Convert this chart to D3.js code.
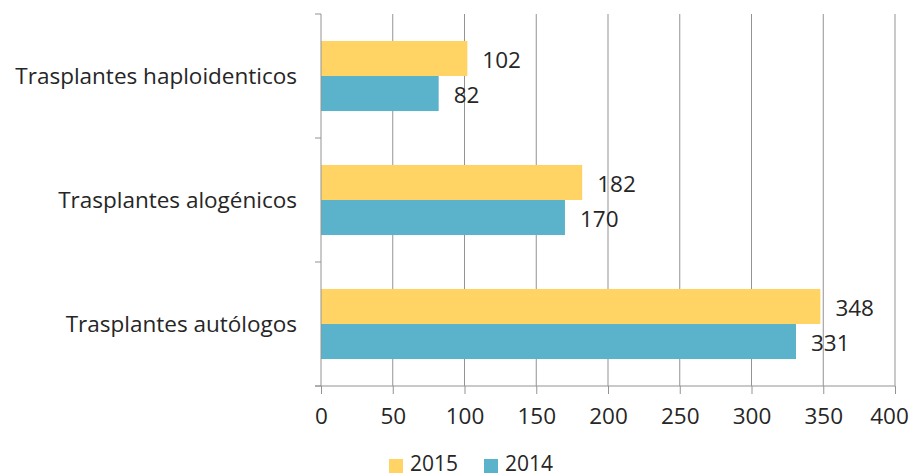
<!DOCTYPE html>
<html>
<head>
<meta charset="utf-8">
<script src="https://cdn.jsdelivr.net/npm/d3@7"></script>
<style>
  body { margin: 0; background: #fff; }
  text { font-family: "Open Sans", "Liberation Sans", sans-serif; fill: #262626; }
</style>
</head>
<body>
<div class="canvas"></div>
<script>
// data
const categories = ['Trasplantes haploidenticos', 'Trasplantes alogénicos', 'Trasplantes autólogos'];
const seriesNames = ['2015', '2014'];
const values2015 = [102, 182, 348];
const values2014 = [82, 170, 331];
const xTicks = [0, 50, 100, 150, 200, 250, 300, 350, 400];

const colors = d3.scaleOrdinal().domain(seriesNames).range(['#FFD465', '#5AB2CB']);

const svg = d3.select('.canvas')
    .append('svg')
    .attr('width', 915)
    .attr('height', 476);

const margin = {top: 14, right: 20, bottom: 90, left: 321};
const graphWidth = 895 - margin.left;
const graphHeight = 386 - margin.top;
const fontSize = '22.5px';

const graph = svg.append('g')
    .attr('transform', `translate(${margin.left}, ${margin.top})`);

// scales
const x = d3.scaleLinear().domain([0, 400]).range([0, graphWidth]);
const y = d3.scaleBand().domain(categories).range([0, graphHeight]);
const inner = d3.scaleBand().domain(seriesNames)
    .range([0, y.bandwidth()])
    .paddingInner(0)
    .paddingOuter(0.77);

// gridlines
graph.append('g')
    .selectAll('line')
    .data(xTicks.slice(1))
    .enter().append('line')
    .attr('x1', d => x(d)).attr('x2', d => x(d))
    .attr('y1', 0).attr('y2', graphHeight)
    .attr('stroke', '#939393')
    .attr('stroke-width', 1);

// rows of data
const rows = categories.map((c, i) => ({cat: c, vals: [
    {name: '2015', value: values2015[i]},
    {name: '2014', value: values2014[i]}
]}));

const groups = graph.selectAll('g.cat')
    .data(rows)
    .enter().append('g')
    .attr('class', 'cat')
    .attr('transform', d => `translate(0, ${y(d.cat)})`);

groups.selectAll('rect')
    .data(d => d.vals)
    .enter().append('rect')
    .attr('x', 0)
    .attr('y', d => inner(d.name))
    .attr('height', inner.bandwidth())
    .attr('width', d => x(d.value))
    .attr('fill', d => colors(d.name));

groups.selectAll('text.val')
    .data(d => d.vals)
    .enter().append('text')
    .attr('class', 'val')
    .attr('x', d => x(d.value) + 15)
    .attr('y', d => inner(d.name) + inner.bandwidth() / 2 + 1.5)
    .attr('dy', '0.35em')
    .style('font-size', fontSize)
    .text(d => d.value);

// axes
const xAxis = d3.axisBottom(x).tickValues(xTicks).tickSize(8).tickPadding(14);
const xAxisGroup = graph.append('g')
    .attr('transform', `translate(0, ${graphHeight})`)
    .call(xAxis);
xAxisGroup.select('.domain').attr('stroke', '#939393').attr('d', `M-6,0H${graphWidth}`);
xAxisGroup.selectAll('.tick line').attr('stroke', '#939393');
xAxisGroup.selectAll('.tick text')
    .style('font-size', fontSize)
    .attr('fill', '#262626')
    .attr('dx', d => d === 400 ? -6 : 0);

const yAxisGroup = graph.append('g');
yAxisGroup.append('line')
    .attr('x1', 0).attr('x2', 0).attr('y1', 0).attr('y2', graphHeight)
    .attr('stroke', '#939393');
yAxisGroup.selectAll('line.tk')
    .data(d3.range(categories.length + 1))
    .enter().append('line')
    .attr('class', 'tk')
    .attr('x1', -6).attr('x2', 0)
    .attr('y1', d => d * y.step()).attr('y2', d => d * y.step())
    .attr('stroke', '#939393');
yAxisGroup.selectAll('text')
    .data(categories)
    .enter().append('text')
    .attr('x', -24)
    .attr('y', d => y(d) + y.bandwidth() / 2)
    .attr('dy', '0.35em')
    .attr('text-anchor', 'end')
    .style('font-size', fontSize)
    .text(d => d);

// legend (kept just inside the bottom edge)
const legend = svg.append('g').attr('transform', 'translate(389, 459)');
const legendX = [0, 95];
seriesNames.forEach((s, i) => {
    const g = legend.append('g').attr('transform', `translate(${legendX[i]}, 0)`);
    g.append('rect').attr('width', 14).attr('height', 14).attr('fill', colors(s));
    g.append('text').attr('x', 21).attr('y', 12)
        .style('font-size', '21px').text(s);
});
</script>
</body>
</html>
